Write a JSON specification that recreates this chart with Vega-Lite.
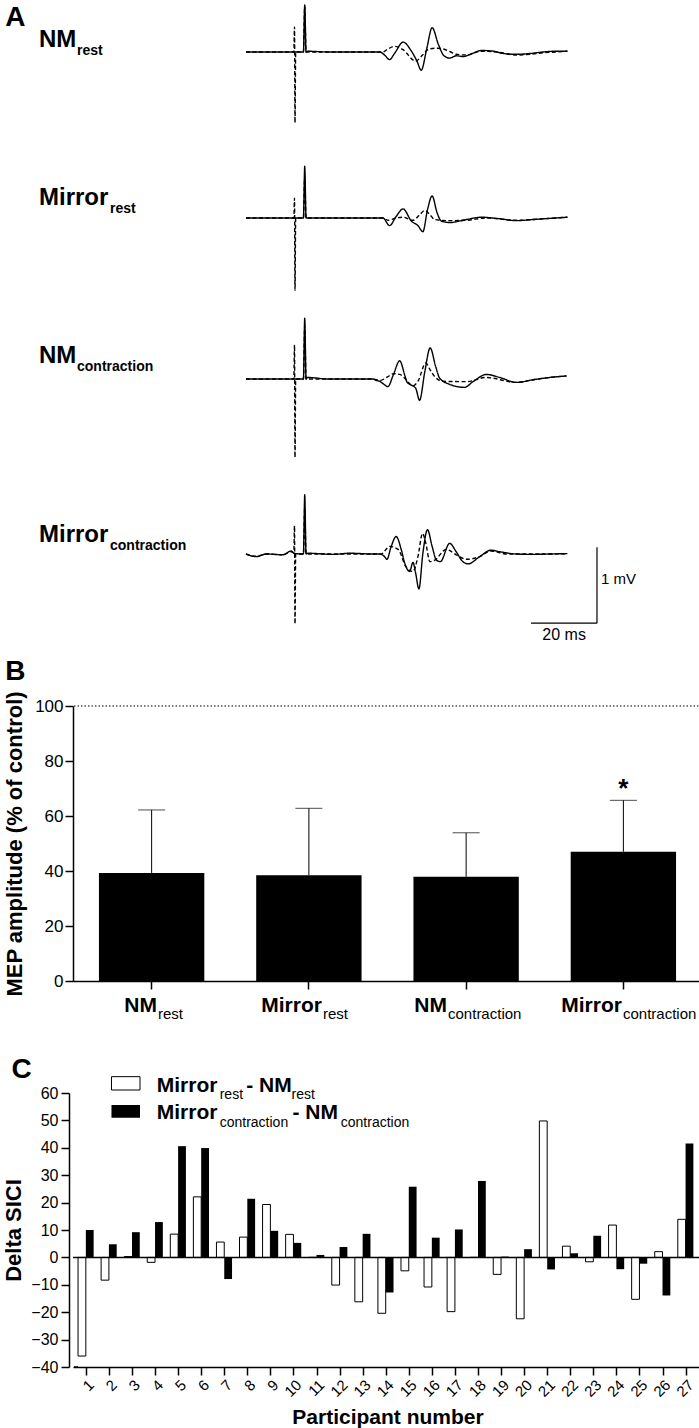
{
"$schema":"https://vega.github.io/schema/vega-lite/v6.json",
"padding":{"left":2,"top":0,"right":0,"bottom":0},
"spacing":0,
"bounds":"flush",
"config":{"view":{"stroke":null},"font":"Liberation Sans","axis":{"labelColor":"black","titleColor":"black","domainColor":"black","tickColor":"black","grid":false,"domainWidth":1.5,"tickWidth":1.5,"labelFontSize":16,"titleFontSize":22,"titleFontWeight":"bold","tickSize":8,"labelFont":"Liberation Sans","titleFont":"Liberation Sans","labelOverlap":false,"labelFlush":false}},
"datasets":{
"traces":[
{"cond":"NMrest","trace":"TS","t":0,"v":0},{"cond":"NMrest","trace":"TS","t":14.5,"v":0},{"cond":"NMrest","trace":"TS","t":17.4,"v":0},{"cond":"NMrest","trace":"TS","t":17.8,"v":0.62},{"cond":"NMrest","trace":"TS","t":18.2,"v":0},{"cond":"NMrest","trace":"TS","t":18.6,"v":0.01},{"cond":"NMrest","trace":"TS","t":25,"v":0},{"cond":"NMrest","trace":"TS","t":33,"v":0},{"cond":"NMrest","trace":"TS","t":40.5,"v":0},{"cond":"NMrest","trace":"TS","t":42,"v":-0.04},{"cond":"NMrest","trace":"TS","t":43.5,"v":-0.1},{"cond":"NMrest","trace":"TS","t":45,"v":-0.02},{"cond":"NMrest","trace":"TS","t":47.6,"v":0.13},{"cond":"NMrest","trace":"TS","t":50,"v":0.02},{"cond":"NMrest","trace":"TS","t":51.8,"v":-0.12},{"cond":"NMrest","trace":"TS","t":53.1,"v":-0.24},{"cond":"NMrest","trace":"TS","t":54.8,"v":0.05},{"cond":"NMrest","trace":"TS","t":56.4,"v":0.32},{"cond":"NMrest","trace":"TS","t":58.3,"v":0.1},{"cond":"NMrest","trace":"TS","t":60,"v":-0.05},{"cond":"NMrest","trace":"TS","t":61.7,"v":-0.08},{"cond":"NMrest","trace":"TS","t":63.7,"v":-0.05},{"cond":"NMrest","trace":"TS","t":65.8,"v":-0.06},{"cond":"NMrest","trace":"TS","t":68.5,"v":-0.02},{"cond":"NMrest","trace":"TS","t":71.3,"v":0.02},{"cond":"NMrest","trace":"TS","t":75,"v":0.01},{"cond":"NMrest","trace":"TS","t":78,"v":-0.02},{"cond":"NMrest","trace":"TS","t":81.9,"v":-0.03},{"cond":"NMrest","trace":"TS","t":86,"v":-0.02},{"cond":"NMrest","trace":"TS","t":90,"v":0},{"cond":"NMrest","trace":"TS","t":94,"v":0.01},{"cond":"NMrest","trace":"TS","t":97.4,"v":0.01},
{"cond":"NMrest","trace":"CS","t":0,"v":0},{"cond":"NMrest","trace":"CS","t":14.5,"v":0},{"cond":"NMrest","trace":"CS","t":14.7,"v":0.33},{"cond":"NMrest","trace":"CS","t":14.85,"v":-0.93},{"cond":"NMrest","trace":"CS","t":15.05,"v":0},{"cond":"NMrest","trace":"CS","t":17.4,"v":0},{"cond":"NMrest","trace":"CS","t":17.8,"v":0.6},{"cond":"NMrest","trace":"CS","t":18.2,"v":0},{"cond":"NMrest","trace":"CS","t":25,"v":0},{"cond":"NMrest","trace":"CS","t":33,"v":0},{"cond":"NMrest","trace":"CS","t":41.5,"v":0},{"cond":"NMrest","trace":"CS","t":43,"v":0.04},{"cond":"NMrest","trace":"CS","t":45,"v":0.075},{"cond":"NMrest","trace":"CS","t":47.6,"v":0.03},{"cond":"NMrest","trace":"CS","t":51.4,"v":-0.12},{"cond":"NMrest","trace":"CS","t":53.5,"v":-0.04},{"cond":"NMrest","trace":"CS","t":55.5,"v":0.04},{"cond":"NMrest","trace":"CS","t":57.7,"v":0.05},{"cond":"NMrest","trace":"CS","t":59.7,"v":0.04},{"cond":"NMrest","trace":"CS","t":62,"v":0},{"cond":"NMrest","trace":"CS","t":63.7,"v":-0.03},{"cond":"NMrest","trace":"CS","t":66.8,"v":-0.04},{"cond":"NMrest","trace":"CS","t":71.3,"v":0.01},{"cond":"NMrest","trace":"CS","t":76,"v":0},{"cond":"NMrest","trace":"CS","t":81.9,"v":-0.04},{"cond":"NMrest","trace":"CS","t":86,"v":-0.03},{"cond":"NMrest","trace":"CS","t":90,"v":-0.01},{"cond":"NMrest","trace":"CS","t":94,"v":0},{"cond":"NMrest","trace":"CS","t":97.4,"v":0.01},
{"cond":"Mirrorrest","trace":"TS","t":0,"v":0},{"cond":"Mirrorrest","trace":"TS","t":14.5,"v":0},{"cond":"Mirrorrest","trace":"TS","t":17.4,"v":0},{"cond":"Mirrorrest","trace":"TS","t":17.8,"v":0.68},{"cond":"Mirrorrest","trace":"TS","t":18.2,"v":0},{"cond":"Mirrorrest","trace":"TS","t":25,"v":0},{"cond":"Mirrorrest","trace":"TS","t":33,"v":0},{"cond":"Mirrorrest","trace":"TS","t":41.5,"v":0},{"cond":"Mirrorrest","trace":"TS","t":43.5,"v":-0.1},{"cond":"Mirrorrest","trace":"TS","t":45.5,"v":0.02},{"cond":"Mirrorrest","trace":"TS","t":47.6,"v":0.12},{"cond":"Mirrorrest","trace":"TS","t":50.1,"v":-0.04},{"cond":"Mirrorrest","trace":"TS","t":52.1,"v":-0.1},{"cond":"Mirrorrest","trace":"TS","t":53.6,"v":-0.18},{"cond":"Mirrorrest","trace":"TS","t":55,"v":0.11},{"cond":"Mirrorrest","trace":"TS","t":56.4,"v":0.29},{"cond":"Mirrorrest","trace":"TS","t":57.9,"v":0.07},{"cond":"Mirrorrest","trace":"TS","t":59.2,"v":-0.04},{"cond":"Mirrorrest","trace":"TS","t":61.7,"v":-0.06},{"cond":"Mirrorrest","trace":"TS","t":66.8,"v":-0.02},{"cond":"Mirrorrest","trace":"TS","t":71.3,"v":0.01},{"cond":"Mirrorrest","trace":"TS","t":76.9,"v":-0.01},{"cond":"Mirrorrest","trace":"TS","t":81.9,"v":-0.035},{"cond":"Mirrorrest","trace":"TS","t":87,"v":-0.02},{"cond":"Mirrorrest","trace":"TS","t":92,"v":-0.005},{"cond":"Mirrorrest","trace":"TS","t":97.4,"v":0.01},
{"cond":"Mirrorrest","trace":"CS","t":0,"v":0},{"cond":"Mirrorrest","trace":"CS","t":14.5,"v":0},{"cond":"Mirrorrest","trace":"CS","t":14.7,"v":0.26},{"cond":"Mirrorrest","trace":"CS","t":14.85,"v":-0.95},{"cond":"Mirrorrest","trace":"CS","t":15.05,"v":0},{"cond":"Mirrorrest","trace":"CS","t":17.4,"v":0},{"cond":"Mirrorrest","trace":"CS","t":17.8,"v":0.55},{"cond":"Mirrorrest","trace":"CS","t":18.2,"v":0},{"cond":"Mirrorrest","trace":"CS","t":25,"v":0},{"cond":"Mirrorrest","trace":"CS","t":33,"v":0},{"cond":"Mirrorrest","trace":"CS","t":41.5,"v":0},{"cond":"Mirrorrest","trace":"CS","t":43,"v":-0.03},{"cond":"Mirrorrest","trace":"CS","t":45.5,"v":0},{"cond":"Mirrorrest","trace":"CS","t":47.6,"v":0.01},{"cond":"Mirrorrest","trace":"CS","t":50.6,"v":-0.03},{"cond":"Mirrorrest","trace":"CS","t":52.6,"v":0.04},{"cond":"Mirrorrest","trace":"CS","t":54.2,"v":0.1},{"cond":"Mirrorrest","trace":"CS","t":55.8,"v":0.04},{"cond":"Mirrorrest","trace":"CS","t":57.2,"v":-0.02},{"cond":"Mirrorrest","trace":"CS","t":60.7,"v":-0.035},{"cond":"Mirrorrest","trace":"CS","t":66.8,"v":-0.03},{"cond":"Mirrorrest","trace":"CS","t":72.8,"v":0},{"cond":"Mirrorrest","trace":"CS","t":81.9,"v":-0.03},{"cond":"Mirrorrest","trace":"CS","t":87,"v":-0.02},{"cond":"Mirrorrest","trace":"CS","t":92,"v":-0.005},{"cond":"Mirrorrest","trace":"CS","t":97.4,"v":0.01},
{"cond":"NMcontraction","trace":"TS","t":0,"v":0},{"cond":"NMcontraction","trace":"TS","t":14.5,"v":0},{"cond":"NMcontraction","trace":"TS","t":17.4,"v":0},{"cond":"NMcontraction","trace":"TS","t":17.8,"v":0.8},{"cond":"NMcontraction","trace":"TS","t":18.2,"v":0},{"cond":"NMcontraction","trace":"TS","t":18.6,"v":0.02},{"cond":"NMcontraction","trace":"TS","t":25,"v":0},{"cond":"NMcontraction","trace":"TS","t":33,"v":0},{"cond":"NMcontraction","trace":"TS","t":38.5,"v":0},{"cond":"NMcontraction","trace":"TS","t":39.5,"v":-0.02},{"cond":"NMcontraction","trace":"TS","t":40.5,"v":-0.03},{"cond":"NMcontraction","trace":"TS","t":41.5,"v":-0.06},{"cond":"NMcontraction","trace":"TS","t":43,"v":-0.1},{"cond":"NMcontraction","trace":"TS","t":44.6,"v":0.05},{"cond":"NMcontraction","trace":"TS","t":46.6,"v":0.24},{"cond":"NMcontraction","trace":"TS","t":48.1,"v":0.05},{"cond":"NMcontraction","trace":"TS","t":48.8,"v":-0.04},{"cond":"NMcontraction","trace":"TS","t":50.1,"v":-0.08},{"cond":"NMcontraction","trace":"TS","t":51.4,"v":-0.12},{"cond":"NMcontraction","trace":"TS","t":52.6,"v":-0.28},{"cond":"NMcontraction","trace":"TS","t":54.2,"v":0.1},{"cond":"NMcontraction","trace":"TS","t":55.8,"v":0.41},{"cond":"NMcontraction","trace":"TS","t":57.5,"v":0.16},{"cond":"NMcontraction","trace":"TS","t":58.7,"v":0.01},{"cond":"NMcontraction","trace":"TS","t":61.7,"v":-0.07},{"cond":"NMcontraction","trace":"TS","t":66.2,"v":-0.11},{"cond":"NMcontraction","trace":"TS","t":68.8,"v":-0.035},{"cond":"NMcontraction","trace":"TS","t":72.8,"v":0.06},{"cond":"NMcontraction","trace":"TS","t":76.9,"v":0.02},{"cond":"NMcontraction","trace":"TS","t":81.9,"v":-0.045},{"cond":"NMcontraction","trace":"TS","t":87,"v":-0.01},{"cond":"NMcontraction","trace":"TS","t":92,"v":0.02},{"cond":"NMcontraction","trace":"TS","t":97.1,"v":0.04},
{"cond":"NMcontraction","trace":"CS","t":0,"v":0},{"cond":"NMcontraction","trace":"CS","t":14.5,"v":0},{"cond":"NMcontraction","trace":"CS","t":14.7,"v":0.45},{"cond":"NMcontraction","trace":"CS","t":14.85,"v":-1.03},{"cond":"NMcontraction","trace":"CS","t":15.05,"v":0},{"cond":"NMcontraction","trace":"CS","t":17.4,"v":0},{"cond":"NMcontraction","trace":"CS","t":17.8,"v":0.7},{"cond":"NMcontraction","trace":"CS","t":18.2,"v":0},{"cond":"NMcontraction","trace":"CS","t":25,"v":0},{"cond":"NMcontraction","trace":"CS","t":33,"v":0},{"cond":"NMcontraction","trace":"CS","t":38.5,"v":0},{"cond":"NMcontraction","trace":"CS","t":40.5,"v":-0.02},{"cond":"NMcontraction","trace":"CS","t":43,"v":0.03},{"cond":"NMcontraction","trace":"CS","t":44.6,"v":0.07},{"cond":"NMcontraction","trace":"CS","t":46.6,"v":0.06},{"cond":"NMcontraction","trace":"CS","t":48.1,"v":0.01},{"cond":"NMcontraction","trace":"CS","t":50.6,"v":-0.09},{"cond":"NMcontraction","trace":"CS","t":52.1,"v":-0.03},{"cond":"NMcontraction","trace":"CS","t":54.5,"v":0.21},{"cond":"NMcontraction","trace":"CS","t":55.8,"v":0.12},{"cond":"NMcontraction","trace":"CS","t":57.2,"v":0.03},{"cond":"NMcontraction","trace":"CS","t":59.7,"v":-0.03},{"cond":"NMcontraction","trace":"CS","t":66.8,"v":-0.035},{"cond":"NMcontraction","trace":"CS","t":72.8,"v":0.02},{"cond":"NMcontraction","trace":"CS","t":81.9,"v":-0.045},{"cond":"NMcontraction","trace":"CS","t":87,"v":-0.01},{"cond":"NMcontraction","trace":"CS","t":92,"v":0.02},{"cond":"NMcontraction","trace":"CS","t":97.1,"v":0.04},
{"cond":"Mirrorcontraction","trace":"TS","t":0,"v":0},{"cond":"Mirrorcontraction","trace":"TS","t":3.1,"v":-0.035},{"cond":"Mirrorcontraction","trace":"TS","t":6.1,"v":0},{"cond":"Mirrorcontraction","trace":"TS","t":11.2,"v":-0.01},{"cond":"Mirrorcontraction","trace":"TS","t":13.7,"v":0.04},{"cond":"Mirrorcontraction","trace":"TS","t":14.5,"v":0.01},{"cond":"Mirrorcontraction","trace":"TS","t":17.4,"v":0},{"cond":"Mirrorcontraction","trace":"TS","t":17.8,"v":0.78},{"cond":"Mirrorcontraction","trace":"TS","t":18.2,"v":0},{"cond":"Mirrorcontraction","trace":"TS","t":18.8,"v":0.01},{"cond":"Mirrorcontraction","trace":"TS","t":26.4,"v":-0.005},{"cond":"Mirrorcontraction","trace":"TS","t":31.4,"v":0.01},{"cond":"Mirrorcontraction","trace":"TS","t":38.5,"v":0},{"cond":"Mirrorcontraction","trace":"TS","t":40.5,"v":0},{"cond":"Mirrorcontraction","trace":"TS","t":42,"v":-0.035},{"cond":"Mirrorcontraction","trace":"TS","t":42.7,"v":-0.07},{"cond":"Mirrorcontraction","trace":"TS","t":44,"v":0.1},{"cond":"Mirrorcontraction","trace":"TS","t":45.5,"v":0.23},{"cond":"Mirrorcontraction","trace":"TS","t":47.1,"v":0.05},{"cond":"Mirrorcontraction","trace":"TS","t":48.1,"v":-0.12},{"cond":"Mirrorcontraction","trace":"TS","t":49.6,"v":-0.23},{"cond":"Mirrorcontraction","trace":"TS","t":50.6,"v":-0.11},{"cond":"Mirrorcontraction","trace":"TS","t":51.4,"v":-0.25},{"cond":"Mirrorcontraction","trace":"TS","t":52.4,"v":-0.46},{"cond":"Mirrorcontraction","trace":"TS","t":53.6,"v":0.01},{"cond":"Mirrorcontraction","trace":"TS","t":55,"v":0.32},{"cond":"Mirrorcontraction","trace":"TS","t":56.4,"v":0.1},{"cond":"Mirrorcontraction","trace":"TS","t":57.7,"v":-0.08},{"cond":"Mirrorcontraction","trace":"TS","t":58.9,"v":-0.1},{"cond":"Mirrorcontraction","trace":"TS","t":61.7,"v":0.14},{"cond":"Mirrorcontraction","trace":"TS","t":63.7,"v":0.03},{"cond":"Mirrorcontraction","trace":"TS","t":65.7,"v":-0.1},{"cond":"Mirrorcontraction","trace":"TS","t":67.3,"v":-0.13},{"cond":"Mirrorcontraction","trace":"TS","t":70.8,"v":-0.035},{"cond":"Mirrorcontraction","trace":"TS","t":74.2,"v":0.05},{"cond":"Mirrorcontraction","trace":"TS","t":76.9,"v":0.03},{"cond":"Mirrorcontraction","trace":"TS","t":81.9,"v":0},{"cond":"Mirrorcontraction","trace":"TS","t":87,"v":-0.005},{"cond":"Mirrorcontraction","trace":"TS","t":92,"v":0},{"cond":"Mirrorcontraction","trace":"TS","t":97.4,"v":0.005},
{"cond":"Mirrorcontraction","trace":"CS","t":0,"v":0},{"cond":"Mirrorcontraction","trace":"CS","t":3.1,"v":-0.03},{"cond":"Mirrorcontraction","trace":"CS","t":6.1,"v":0},{"cond":"Mirrorcontraction","trace":"CS","t":11.2,"v":-0.01},{"cond":"Mirrorcontraction","trace":"CS","t":13.7,"v":0.03},{"cond":"Mirrorcontraction","trace":"CS","t":14.5,"v":0.02},{"cond":"Mirrorcontraction","trace":"CS","t":14.7,"v":0.37},{"cond":"Mirrorcontraction","trace":"CS","t":14.85,"v":-0.92},{"cond":"Mirrorcontraction","trace":"CS","t":15.05,"v":0},{"cond":"Mirrorcontraction","trace":"CS","t":17.4,"v":0},{"cond":"Mirrorcontraction","trace":"CS","t":17.8,"v":0.6},{"cond":"Mirrorcontraction","trace":"CS","t":18.2,"v":0},{"cond":"Mirrorcontraction","trace":"CS","t":26.4,"v":0},{"cond":"Mirrorcontraction","trace":"CS","t":38.5,"v":0},{"cond":"Mirrorcontraction","trace":"CS","t":41,"v":0},{"cond":"Mirrorcontraction","trace":"CS","t":43.5,"v":0.1},{"cond":"Mirrorcontraction","trace":"CS","t":46.1,"v":0.06},{"cond":"Mirrorcontraction","trace":"CS","t":48.5,"v":-0.17},{"cond":"Mirrorcontraction","trace":"CS","t":50.6,"v":-0.23},{"cond":"Mirrorcontraction","trace":"CS","t":52.1,"v":-0.035},{"cond":"Mirrorcontraction","trace":"CS","t":53.5,"v":0.27},{"cond":"Mirrorcontraction","trace":"CS","t":54.5,"v":0.14},{"cond":"Mirrorcontraction","trace":"CS","t":55.7,"v":-0.1},{"cond":"Mirrorcontraction","trace":"CS","t":57.2,"v":-0.08},{"cond":"Mirrorcontraction","trace":"CS","t":60.7,"v":0.06},{"cond":"Mirrorcontraction","trace":"CS","t":63.7,"v":-0.01},{"cond":"Mirrorcontraction","trace":"CS","t":66.8,"v":-0.07},{"cond":"Mirrorcontraction","trace":"CS","t":70.8,"v":-0.035},{"cond":"Mirrorcontraction","trace":"CS","t":74.2,"v":0.04},{"cond":"Mirrorcontraction","trace":"CS","t":79.2,"v":0},{"cond":"Mirrorcontraction","trace":"CS","t":87,"v":0},{"cond":"Mirrorcontraction","trace":"CS","t":92,"v":0},{"cond":"Mirrorcontraction","trace":"CS","t":97.4,"v":0.005}
],
"mep":[
{"cond":"NMrest","mean":39.3,"upper":62.2},
{"cond":"Mirrorrest","mean":38.5,"upper":62.8},
{"cond":"NMcontraction","mean":37.9,"upper":53.9},
{"cond":"Mirrorcontraction","mean":47.0,"upper":65.7}
],
"sici":[
{"p":1,"rest":-36,"con":10},{"p":2,"rest":-8.3,"con":4.8},{"p":3,"rest":0.3,"con":9.2},{"p":4,"rest":-1.8,"con":12.9},{"p":5,"rest":8.5,"con":40.6},{"p":6,"rest":22.1,"con":39.9},{"p":7,"rest":5.6,"con":-7.9},{"p":8,"rest":7.4,"con":21.4},{"p":9,"rest":19.3,"con":9.7},{"p":10,"rest":8.4,"con":5.3},{"p":11,"rest":0,"con":0.9},{"p":12,"rest":-10.1,"con":3.8},{"p":13,"rest":-16.2,"con":8.6},{"p":14,"rest":-20.4,"con":-12.8},{"p":15,"rest":-4.9,"con":25.8},{"p":16,"rest":-10.8,"con":7.2},{"p":17,"rest":-19.8,"con":10.2},{"p":18,"rest":0,"con":27.9},{"p":19,"rest":-6.2,"con":0.3},{"p":20,"rest":-22.4,"con":3.0},{"p":21,"rest":49.8,"con":-4.4},{"p":22,"rest":4.1,"con":1.5},{"p":23,"rest":-1.6,"con":7.9},{"p":24,"rest":11.8,"con":-4.3},{"p":25,"rest":-15.3,"con":-2.3},{"p":26,"rest":2.1,"con":-13.9},{"p":27,"rest":13.9,"con":41.6}
]
},
"vconcat":[
{"width":629,"height":140,"layer":[
 {"data":{"name":"traces"},"transform":[{"filter":"datum.cond === 'NMrest'"}],"mark":{"type":"line","color":"black","strokeWidth":1.4,"interpolate":"monotone"},
  "encoding":{"x":{"field":"t","type":"quantitative","scale":{"domain":[-52.424,138.182],"nice":false,"zero":false},"axis":null},
   "y":{"field":"v","type":"quantitative","scale":{"domain":[-1.1579,0.6842],"nice":false,"zero":false},"axis":null},
   "strokeDash":{"field":"trace","type":"nominal","scale":{"domain":["TS","CS"],"range":[[1,0],[4,2.5]]},"legend":null}}},
 {"data":{"values":[{}]},"mark":{"type":"text","align":"left","baseline":"alphabetic","fontSize":28,"fontWeight":"bold","color":"black"},"encoding":{"x":{"datum":-72.94},"y":{"datum":0.342},"text":{"value":"A"}}},
 {"data":{"values":[{}]},"mark":{"type":"text","align":"left","baseline":"alphabetic","fontSize":24,"fontWeight":"bold","color":"black"},"encoding":{"x":{"datum":-62.73},"y":{"datum":0.066},"text":{"value":"NM"}}},
 {"data":{"values":[{}]},"mark":{"type":"text","align":"left","baseline":"alphabetic","fontSize":14,"fontWeight":"bold","color":"black"},"encoding":{"x":{"datum":-51.21},"y":{"datum":-0.039},"text":{"value":"rest"}}}
]},
{"width":629,"height":160,"layer":[
 {"data":{"name":"traces"},"transform":[{"filter":"datum.cond === 'Mirrorrest'"}],"mark":{"type":"line","color":"black","strokeWidth":1.4,"interpolate":"monotone"},
  "encoding":{"x":{"field":"t","type":"quantitative","scale":{"domain":[-52.424,138.182],"nice":false,"zero":false},"axis":null},
   "y":{"field":"v","type":"quantitative","scale":{"domain":[-1.0789,1.0263],"nice":false,"zero":false},"axis":null},
   "strokeDash":{"field":"trace","type":"nominal","scale":{"domain":["TS","CS"],"range":[[1,0],[4,2.5]]},"legend":null}}},
 {"data":{"values":[{}]},"mark":{"type":"text","align":"left","baseline":"alphabetic","fontSize":24,"fontWeight":"bold","color":"black"},"encoding":{"x":{"datum":-62.73},"y":{"datum":0.171},"text":{"value":"Mirror"}}},
 {"data":{"values":[{}]},"mark":{"type":"text","align":"left","baseline":"alphabetic","fontSize":14,"fontWeight":"bold","color":"black"},"encoding":{"x":{"datum":-41.21},"y":{"datum":0.066},"text":{"value":"rest"}}}
]},
{"width":629,"height":170,"layer":[
 {"data":{"name":"traces"},"transform":[{"filter":"datum.cond === 'NMcontraction'"}],"mark":{"type":"line","color":"black","strokeWidth":1.4,"interpolate":"monotone"},
  "encoding":{"x":{"field":"t","type":"quantitative","scale":{"domain":[-52.424,138.182],"nice":false,"zero":false},"axis":null},
   "y":{"field":"v","type":"quantitative","scale":{"domain":[-1.1974,1.0395],"nice":false,"zero":false},"axis":null},
   "strokeDash":{"field":"trace","type":"nominal","scale":{"domain":["TS","CS"],"range":[[1,0],[4,2.5]]},"legend":null}}},
 {"data":{"values":[{}]},"mark":{"type":"text","align":"left","baseline":"alphabetic","fontSize":24,"fontWeight":"bold","color":"black"},"encoding":{"x":{"datum":-62.73},"y":{"datum":0.211},"text":{"value":"NM"}}},
 {"data":{"values":[{}]},"mark":{"type":"text","align":"left","baseline":"alphabetic","fontSize":14,"fontWeight":"bold","color":"black"},"encoding":{"x":{"datum":-51.21},"y":{"datum":0.105},"text":{"value":"contraction"}}}
]},
{"width":629,"height":236,"layer":[
 {"data":{"name":"traces"},"transform":[{"filter":"datum.cond === 'Mirrorcontraction'"}],"mark":{"type":"line","color":"black","strokeWidth":1.4,"interpolate":"monotone"},
  "encoding":{"x":{"field":"t","type":"quantitative","scale":{"domain":[-52.424,138.182],"nice":false,"zero":false},"axis":null},
   "y":{"field":"v","type":"quantitative","scale":{"domain":[-2.0,1.1053],"nice":false,"zero":false},"axis":null},
   "strokeDash":{"field":"trace","type":"nominal","scale":{"domain":["TS","CS"],"range":[[1,0],[4,2.5]]},"legend":null}}},
 {"data":{"values":[{}]},"mark":{"type":"text","align":"left","baseline":"alphabetic","fontSize":24,"fontWeight":"bold","color":"black"},"encoding":{"x":{"datum":-62.73},"y":{"datum":0.158},"text":{"value":"Mirror"}}},
 {"data":{"values":[{}]},"mark":{"type":"text","align":"left","baseline":"alphabetic","fontSize":14,"fontWeight":"bold","color":"black"},"encoding":{"x":{"datum":-41.21},"y":{"datum":0.053},"text":{"value":"contraction"}}},
 {"data":{"values":[{}]},"mark":{"type":"rule","color":"black","strokeWidth":1.2},"encoding":{"x":{"datum":106.36},"y":{"datum":-0.91},"y2":{"datum":0.09}}},
 {"data":{"values":[{}]},"mark":{"type":"rule","color":"black","strokeWidth":1.2},"encoding":{"x":{"datum":86.36},"x2":{"datum":106.36},"y":{"datum":-0.91}}},
 {"data":{"values":[{}]},"mark":{"type":"text","align":"left","baseline":"alphabetic","fontSize":15,"color":"black"},"encoding":{"x":{"datum":107.6},"y":{"datum":-0.395},"text":{"value":"1 mV"}}},
 {"data":{"values":[{}]},"mark":{"type":"text","align":"center","baseline":"alphabetic","fontSize":16,"color":"black"},"encoding":{"x":{"datum":96.4},"y":{"datum":-1.132},"text":{"value":"20 ms"}}},
 {"data":{"values":[{}]},"mark":{"type":"text","align":"left","baseline":"alphabetic","fontSize":28,"fontWeight":"bold","color":"black"},"encoding":{"x":{"datum":-72.94},"y":{"datum":-1.658},"text":{"value":"B"}}}
]},
{"width":629,"height":275,"layer":[
 {"data":{"name":"mep"},"mark":{"type":"bar","color":"black"},
  "encoding":{"x":{"field":"cond","type":"nominal","scale":{"domain":["NMrest","Mirrorrest","NMcontraction","Mirrorcontraction"],"paddingInner":0.33,"paddingOuter":0.165},"axis":{"labels":false,"title":null,"tickSize":8}},
   "y":{"field":"mean","type":"quantitative","scale":{"domain":[0,100],"nice":false},"axis":{"values":[0,20,40,60,80,100],"title":"MEP amplitude (% of control)","titlePadding":8,"labelPadding":2,"labelFontSize":17,"labelOverlap":false}}}},
 {"data":{"name":"mep"},"mark":{"type":"rule","color":"black","strokeWidth":1},"encoding":{"x":{"field":"cond","type":"nominal"},"y":{"field":"mean","type":"quantitative"},"y2":{"field":"upper"}}},
 {"data":{"name":"mep"},"mark":{"type":"tick","color":"black","thickness":1,"size":27},"encoding":{"x":{"field":"cond","type":"nominal"},"y":{"field":"upper","type":"quantitative"}}},
 {"data":{"values":[{}]},"mark":{"type":"rule","color":"black","strokeWidth":1,"strokeDash":[1.5,2]},"encoding":{"y":{"datum":100}}},
 {"data":{"values":[{}]},"mark":{"type":"text","align":"center","baseline":"alphabetic","fontSize":26,"fontWeight":"bold","color":"black"},"encoding":{"x":{"datum":"Mirrorcontraction"},"y":{"datum":66.9},"text":{"value":"*"}}},
 {"data":{"values":[{}]},"mark":{"type":"text","align":"right","dx":5.4,"baseline":"alphabetic","fontSize":21,"fontWeight":"bold","color":"black"},"encoding":{"x":{"datum":"NMrest"},"y":{"datum":-11.27},"text":{"value":"NM"}}},
 {"data":{"values":[{}]},"mark":{"type":"text","align":"left","dx":6.4,"baseline":"alphabetic","fontSize":15,"color":"black"},"encoding":{"x":{"datum":"NMrest"},"y":{"datum":-13.82},"text":{"value":"rest"}}},
 {"data":{"values":[{}]},"mark":{"type":"text","align":"right","dx":13.1,"baseline":"alphabetic","fontSize":21,"fontWeight":"bold","color":"black"},"encoding":{"x":{"datum":"Mirrorrest"},"y":{"datum":-11.27},"text":{"value":"Mirror"}}},
 {"data":{"values":[{}]},"mark":{"type":"text","align":"left","dx":14.1,"baseline":"alphabetic","fontSize":15,"color":"black"},"encoding":{"x":{"datum":"Mirrorrest"},"y":{"datum":-13.82},"text":{"value":"rest"}}},
 {"data":{"values":[{}]},"mark":{"type":"text","align":"right","dx":-19.1,"baseline":"alphabetic","fontSize":21,"fontWeight":"bold","color":"black"},"encoding":{"x":{"datum":"NMcontraction"},"y":{"datum":-11.27},"text":{"value":"NM"}}},
 {"data":{"values":[{}]},"mark":{"type":"text","align":"left","dx":-18.1,"baseline":"alphabetic","fontSize":15,"color":"black"},"encoding":{"x":{"datum":"NMcontraction"},"y":{"datum":-13.82},"text":{"value":"contraction"}}},
 {"data":{"values":[{}]},"mark":{"type":"text","align":"right","dx":-1.4,"baseline":"alphabetic","fontSize":21,"fontWeight":"bold","color":"black"},"encoding":{"x":{"datum":"Mirrorcontraction"},"y":{"datum":-11.27},"text":{"value":"Mirror"}}},
 {"data":{"values":[{}]},"mark":{"type":"text","align":"left","dx":-0.4,"baseline":"alphabetic","fontSize":15,"color":"black"},"encoding":{"x":{"datum":"Mirrorcontraction"},"y":{"datum":-13.82},"text":{"value":"contraction"}}}
]},
{"width":629,"height":112,"data":{"values":[{}]},"mark":{"type":"text","text":""}},
{"width":629,"height":274,"layer":[
 {"data":{"name":"sici"},"mark":{"type":"bar","fill":"white","stroke":"black","strokeWidth":1,"width":7.8,"xOffset":-3.9},
  "encoding":{"x":{"field":"p","type":"quantitative","scale":{"domain":[0.66,27.495],"nice":false,"zero":false},
    "axis":{"values":[1,2,3,4,5,6,7,8,9,10,11,12,13,14,15,16,17,18,19,20,21,22,23,24,25,26,27],"tickCount":27,"format":"d","labelAngle":-45,"labelFontSize":15,"labelOverlap":false,"labelFlush":false,"labelBound":false,"title":"Participant number","titleFontSize":21,"titlePadding":7}},
   "y":{"field":"rest","type":"quantitative","scale":{"domain":[-40,60],"nice":false},"axis":{"values":[-40,-30,-20,-10,0,10,20,30,40,50,60],"tickCount":11,"labelOverlap":false,"labelFlush":false,"labelBound":false,"offset":4,"title":"Delta SICI","titlePadding":5,"labelPadding":3}}}},
 {"data":{"name":"sici"},"mark":{"type":"bar","color":"black","width":7.8,"xOffset":3.9},"encoding":{"x":{"field":"p","type":"quantitative"},"y":{"field":"con","type":"quantitative"}}},
 {"data":{"values":[{}]},"mark":{"type":"rule","color":"black","strokeWidth":1.5},"encoding":{"y":{"datum":0}}},
 {"data":{"values":[{}]},"mark":{"type":"rule","color":"black","strokeWidth":1.5},"encoding":{"x":{"datum":0.489},"x2":{"datum":0.66},"y":{"datum":-40}}},
 {"data":{"values":[{}]},"mark":{"type":"text","align":"left","baseline":"alphabetic","fontSize":28,"fontWeight":"bold","color":"black"},"encoding":{"x":{"datum":-2.228},"y":{"datum":65.47},"text":{"value":"C"}}},
 {"data":{"values":[{}]},"mark":{"type":"rect","fill":"white","stroke":"black","strokeWidth":1},"encoding":{"x":{"datum":2.111},"x2":{"datum":3.348},"y":{"datum":65.96},"y2":{"datum":61.09}}},
 {"data":{"values":[{}]},"mark":{"type":"rect","fill":"black"},"encoding":{"x":{"datum":2.111},"x2":{"datum":3.348},"y":{"datum":55.62},"y2":{"datum":50.99}}},
 {"data":{"values":[{}]},"mark":{"type":"text","align":"left","baseline":"alphabetic","fontSize":21,"fontWeight":"bold","color":"black"},"encoding":{"x":{"datum":4.073},"y":{"datum":60.36},"text":{"value":"Mirror"}}},
 {"data":{"values":[{}]},"mark":{"type":"text","align":"left","baseline":"alphabetic","fontSize":14,"color":"black"},"encoding":{"x":{"datum":6.803},"y":{"datum":57.81},"text":{"value":"rest"}}},
 {"data":{"values":[{}]},"mark":{"type":"text","align":"left","baseline":"alphabetic","fontSize":21,"fontWeight":"bold","color":"black"},"encoding":{"x":{"datum":7.955},"y":{"datum":60.36},"text":{"value":"- NM"}}},
 {"data":{"values":[{}]},"mark":{"type":"text","align":"left","baseline":"alphabetic","fontSize":14,"color":"black"},"encoding":{"x":{"datum":9.918},"y":{"datum":57.81},"text":{"value":"rest"}}},
 {"data":{"values":[{}]},"mark":{"type":"text","align":"left","baseline":"alphabetic","fontSize":21,"fontWeight":"bold","color":"black"},"encoding":{"x":{"datum":4.073},"y":{"datum":50.51},"text":{"value":"Mirror"}}},
 {"data":{"values":[{}]},"mark":{"type":"text","align":"left","baseline":"alphabetic","fontSize":14,"color":"black"},"encoding":{"x":{"datum":6.803},"y":{"datum":47.59},"text":{"value":"contraction"}}},
 {"data":{"values":[{}]},"mark":{"type":"text","align":"left","baseline":"alphabetic","fontSize":21,"fontWeight":"bold","color":"black"},"encoding":{"x":{"datum":9.96},"y":{"datum":50.51},"text":{"value":"- NM"}}},
 {"data":{"values":[{}]},"mark":{"type":"text","align":"left","baseline":"alphabetic","fontSize":14,"color":"black"},"encoding":{"x":{"datum":12.051},"y":{"datum":47.59},"text":{"value":"contraction"}}}
]}
]
}
